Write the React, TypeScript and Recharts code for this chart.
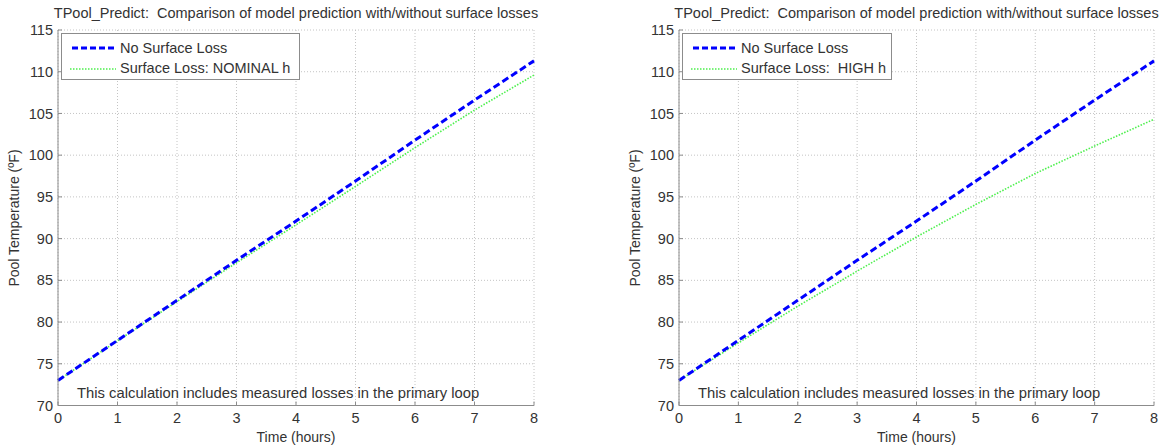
import { LineChart, Line, XAxis, YAxis, CartesianGrid } from 'recharts'

// TPool_Predict: two panels, nominal vs high surface-loss coefficient
const FONT = "'Liberation Sans', Arial, sans-serif"
const AXIS = '#8c8c8c'
const TEXT = '#333333'
const BLUE = '#0000ff'
const GREEN = '#4cf04c'

const HOURS = [0, 1, 2, 3, 4, 5, 6, 7, 8]
const NO_LOSS = [73.0, 77.8, 82.6, 87.4, 92.1, 96.9, 101.8, 106.6, 111.3]
const NOMINAL_H = [73.0, 77.75, 82.45, 87.1, 91.65, 96.25, 100.9, 105.4, 109.6]
const HIGH_H = [73.0, 77.5, 81.9, 86.1, 90.2, 94.1, 97.8, 101.1, 104.3]

const X_TICKS = [0, 1, 2, 3, 4, 5, 6, 7, 8]
const Y_TICKS = [70, 75, 80, 85, 90, 95, 100, 105, 110, 115]

const TITLE = 'TPool_Predict:  Comparison of model prediction with/without surface losses'
const NOTE = 'This calculation includes measured losses in the primary loop'
const Y_LABEL = 'Pool Temperature (ºF)'
const X_LABEL = 'Time (hours)'
const NO_LOSS_LABEL = 'No Surface Loss'

const H = 448
const TOP = 30
const BOTTOM = 405.5

interface PanelProps {
  left: number
  width: number
  plotLeft: number
  plotRight: number
  loss: number[]
  lossLabel: string
  legendWidth: number
}

function Panel({ left, width, plotLeft, plotRight, loss, lossLabel, legendWidth }: PanelProps) {
  const data = HOURS.map((t, i) => ({ t, noLoss: NO_LOSS[i], loss: loss[i] }))
  const plotW = width - plotLeft - plotRight
  const tick = { fill: TEXT, fontSize: 14.5, fontFamily: FONT }

  return (
    <div style={{ position: 'absolute', left, top: 0, width, height: H, fontFamily: FONT, color: TEXT }}>
      <LineChart
        width={width}
        height={H}
        data={data}
        margin={{ top: TOP, right: plotRight, left: plotLeft - 40, bottom: H - BOTTOM - 30 }}
      >
        <CartesianGrid stroke="#c4c4c4" strokeDasharray="1 2" />
        <XAxis
          dataKey="t"
          type="number"
          domain={[0, 8]}
          ticks={X_TICKS}
          height={30}
          tick={tick}
          tickSize={-4}
          tickMargin={11}
          stroke={AXIS}
        />
        <XAxis
          xAxisId="top"
          orientation="top"
          type="number"
          domain={[0, 8]}
          ticks={X_TICKS}
          height={0}
          tick={false}
          tickSize={-4}
          stroke={AXIS}
        />
        <YAxis
          type="number"
          domain={[70, 115]}
          ticks={Y_TICKS}
          width={40}
          tick={tick}
          tickSize={-4}
          tickMargin={9}
          stroke={AXIS}
        />
        <YAxis
          yAxisId="right"
          orientation="right"
          type="number"
          domain={[70, 115]}
          ticks={Y_TICKS}
          width={0}
          tick={false}
          tickSize={-4}
          stroke={AXIS}
        />
        <Line dataKey="loss" stroke={GREEN} strokeWidth={1.6} strokeDasharray="1.5 1.5" dot={false} isAnimationActive={false} />
        <Line dataKey="noLoss" stroke={BLUE} strokeWidth={3} strokeDasharray="7 3.5" dot={false} isAnimationActive={false} />
      </LineChart>

      {/* title */}
      <div style={{ position: 'absolute', left: plotLeft - 80, width: plotW + 160, top: 5, textAlign: 'center', fontSize: 14.5, lineHeight: '17px', whiteSpace: 'pre' }}>
        {TITLE}
      </div>

      {/* y label */}
      <div style={{ position: 'absolute', left: plotLeft - 44 - 100, top: (TOP + BOTTOM) / 2 - 9, width: 200, textAlign: 'center', fontSize: 14, lineHeight: '18px', transform: 'rotate(-90deg)', whiteSpace: 'nowrap' }}>
        {Y_LABEL}
      </div>

      {/* x label */}
      <div style={{ position: 'absolute', left: plotLeft, width: plotW, top: 428, textAlign: 'center', fontSize: 14, lineHeight: '18px' }}>
        {X_LABEL}
      </div>

      {/* note */}
      <div style={{ position: 'absolute', left: plotLeft + 19, top: 384, fontSize: 14.8, lineHeight: '18px', whiteSpace: 'nowrap' }}>
        {NOTE}
      </div>

      {/* legend */}
      <div style={{ position: 'absolute', left: plotLeft + 3, top: 33, width: legendWidth, height: 47, border: `1px solid ${AXIS}`, background: '#fff', boxSizing: 'border-box' }}>
        <svg width={60} height={45} style={{ position: 'absolute', left: 0, top: 0 }}>
          <line x1={10} x2={54} y1={14} y2={14} stroke={BLUE} strokeWidth={3} strokeDasharray="6 3" />
          <line x1={8} x2={54} y1={35} y2={35} stroke={GREEN} strokeWidth={1.6} strokeDasharray="1.5 1.5" />
        </svg>
        <div style={{ position: 'absolute', left: 58, top: 5, fontSize: 14.5, lineHeight: '18px', whiteSpace: 'pre' }}>{NO_LOSS_LABEL}</div>
        <div style={{ position: 'absolute', left: 58, top: 25, fontSize: 14.5, lineHeight: '18px', whiteSpace: 'pre' }}>{lossLabel}</div>
      </div>
    </div>
  )
}

export default function App() {
  return (
    <div style={{ position: 'absolute', left: 0, top: 0, width: 1162, height: H, background: '#fff' }}>
      <Panel left={0} width={580} plotLeft={58} plotRight={46} loss={NOMINAL_H} lossLabel="Surface Loss: NOMINAL h" legendWidth={239} />
      <Panel left={580} width={582} plotLeft={99} plotRight={8} loss={HIGH_H} lossLabel="Surface Loss:  HIGH h" legendWidth={210} />
    </div>
  )
}
